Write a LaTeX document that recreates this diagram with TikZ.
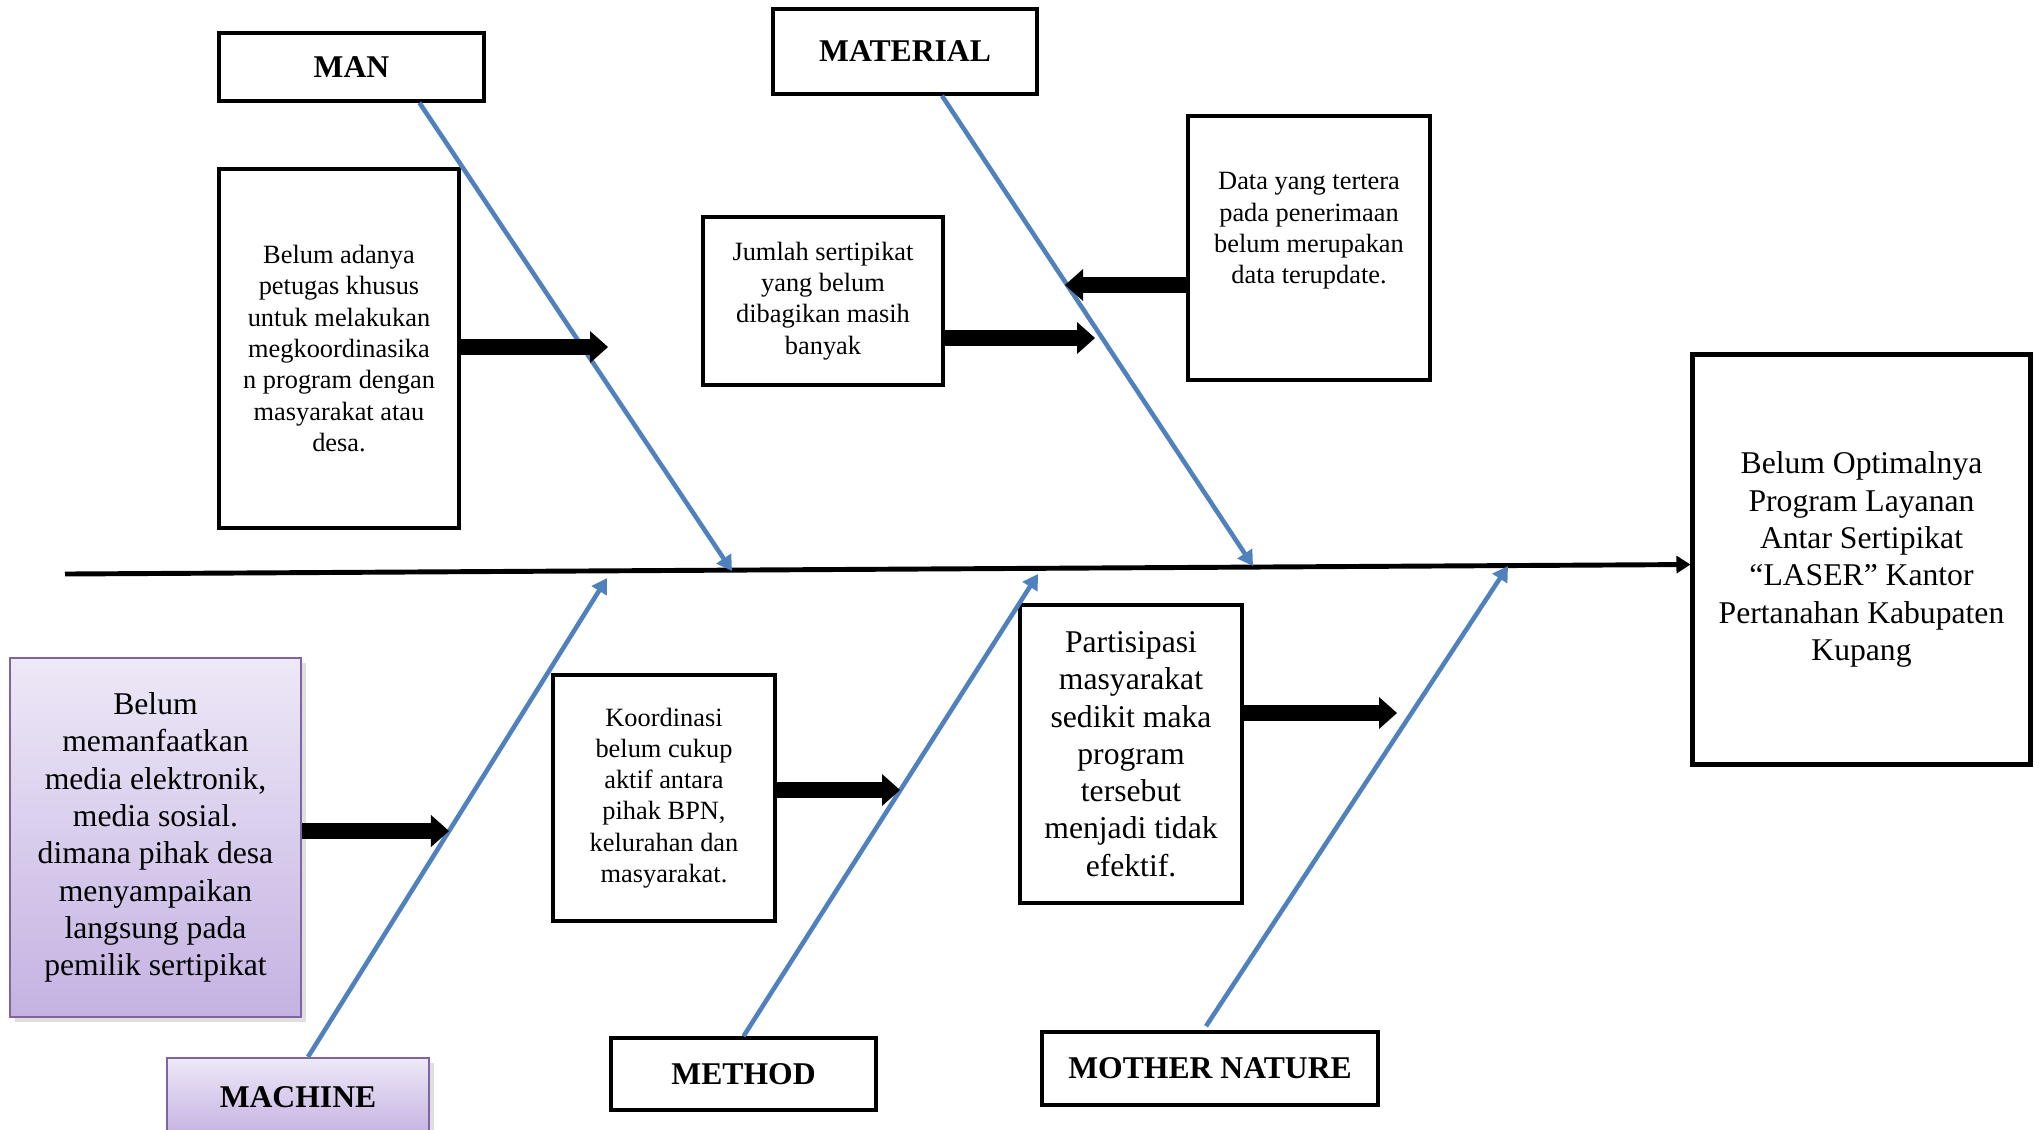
\documentclass[tikz,border=0pt]{standalone}
\usepackage{fontspec}
\setmainfont{Liberation Serif}
\usetikzlibrary{arrows.meta,calc,shadows}

\definecolor{boneblue}{RGB}{79,129,189}
\definecolor{lilacedge}{RGB}{128,100,162}
\definecolor{lilactop}{RGB}{238,232,247}
\definecolor{lilacbottom}{RGB}{196,178,226}

\tikzset{
  cat/.style={draw, line width=1pt, font=\fontsize{9}{10.6}\selectfont\bfseries},
  cause/.style={draw, line width=1pt, align=center, font=\fontsize{7.5}{8.9}\selectfont},
  bigcause/.style={cause, font=\fontsize{9}{10.6}\selectfont},
  lilac/.style={draw=lilacedge, line width=0.6pt, top color=lilactop, bottom color=lilacbottom,
    drop shadow={opacity=0.25, shadow xshift=0.05cm, shadow yshift=-0.05cm}},
  bone/.style={draw=boneblue, line width=1.3pt, -{Triangle[length=0.15cm, width=0.17cm, fill=boneblue]}},
  push/.style={line width=4.6pt, -{Triangle[length=0.18cm, width=0.32cm, line width=0pt]}},
  spine/.style={line width=1.4pt, -{Triangle[length=0.14cm, width=0.17cm]}}
}

\begin{document}
\begin{tikzpicture}[x=0.01cm, y=-0.01cm]
      \useasboundingbox (0,0) rectangle (2040,1129);
      % Define nodes
      \node[cat, minimum width=2.65cm, minimum height=0.68cm] (man) at (351.5,67) {MAN};
      \node[cat, minimum width=2.64cm, minimum height=0.85cm] (material) at (905,51.5) {MATERIAL};
      \node[cat, lilac, minimum width=2.62cm, minimum height=0.78cm] (machine) at (298,1097) {MACHINE};
      \node[cat, minimum width=2.65cm, minimum height=0.72cm] (method) at (743.5,1074) {METHOD};
      \node[cat, minimum width=3.36cm, minimum height=0.73cm] (nature) at (1210,1068.5) {MOTHER NATURE};

      \node[cause, minimum width=2.4cm, minimum height=3.59cm] (mancause) at (339,348.5)
        {Belum adanya\\petugas khusus\\untuk melakukan\\megkoordinasika\\n program dengan\\masyarakat atau\\desa.};
      \node[cause, minimum width=2.4cm, minimum height=1.68cm] (jumlah) at (823,301)
        {Jumlah sertipikat\\yang belum\\dibagikan masih\\banyak};
      \node[cause, minimum width=2.42cm, minimum height=2.64cm] (data) at (1309,248) {};
      \node[cause, draw=none] (datatext) at (1309,231)
        {Data yang tertera\\pada penerimaan\\belum merupakan\\data terupdate.};
      \node[bigcause, lilac, minimum width=2.91cm, minimum height=3.59cm] (machcause) at (155.5,837.5)
        {Belum\\memanfaatkan\\media elektronik,\\media sosial.\\dimana pihak desa\\menyampaikan\\langsung pada\\pemilik sertipikat};
      \node[cause, minimum width=2.22cm, minimum height=2.46cm] (koord) at (664,798)
        {Koordinasi\\belum cukup\\aktif antara\\pihak BPN,\\kelurahan dan\\masyarakat.};
      \node[bigcause, minimum width=2.22cm, minimum height=2.98cm] (partis) at (1131,754)
        {Partisipasi\\masyarakat\\sedikit maka\\program\\tersebut\\menjadi tidak\\efektif.};
      \node[bigcause, line width=1.4pt, minimum width=3.37cm, minimum height=4.09cm] (effect) at (1861.5,559.5)
        {Belum Optimalnya\\Program Layanan\\Antar Sertipikat\\“LASER” Kantor\\Pertanahan Kabupaten\\Kupang};

      \coordinate (tail) at (65,574);
      \coordinate (manhead) at (732,571);
      \coordinate (materialhead) at (1253,566);
      \coordinate (machinehead) at (607,578);
      \coordinate (methodhead) at (1038,574);
      \coordinate (naturehead) at (1508,566);
      \coordinate (mantip) at (608,347);
      \coordinate (jumlahtip) at (1095,338);
      \coordinate (datatip) at (1065,285);
      \coordinate (machtip) at (449,831);
      \coordinate (koordtip) at (900,790);
      \coordinate (partistip) at (1397,713);

      % Connect nodes
      \draw[spine] (tail) -- ($(effect.west)+(0,5)$);
      \draw[bone] ($(man.south)+(68,0)$) -- (manhead);
      \draw[bone] ($(material.south)+(37,0)$) -- (materialhead);
      \draw[bone] ($(machine.north)+(10,0)$) -- (machinehead);
      \draw[bone] (method.north) -- (methodhead);
      \draw[bone] ($(nature.north)+(-4,-4)$) -- (naturehead);
      \draw[push] (mancause.east |- mantip) -- (mantip);
      \draw[push] (jumlah.east |- jumlahtip) -- (jumlahtip);
      \draw[push] (data.west |- datatip) -- (datatip);
      \draw[push] (machcause.east |- machtip) -- (machtip);
      \draw[push] (koord.east |- koordtip) -- (koordtip);
      \draw[push] (partis.east |- partistip) -- (partistip);
\end{tikzpicture}
\end{document}
